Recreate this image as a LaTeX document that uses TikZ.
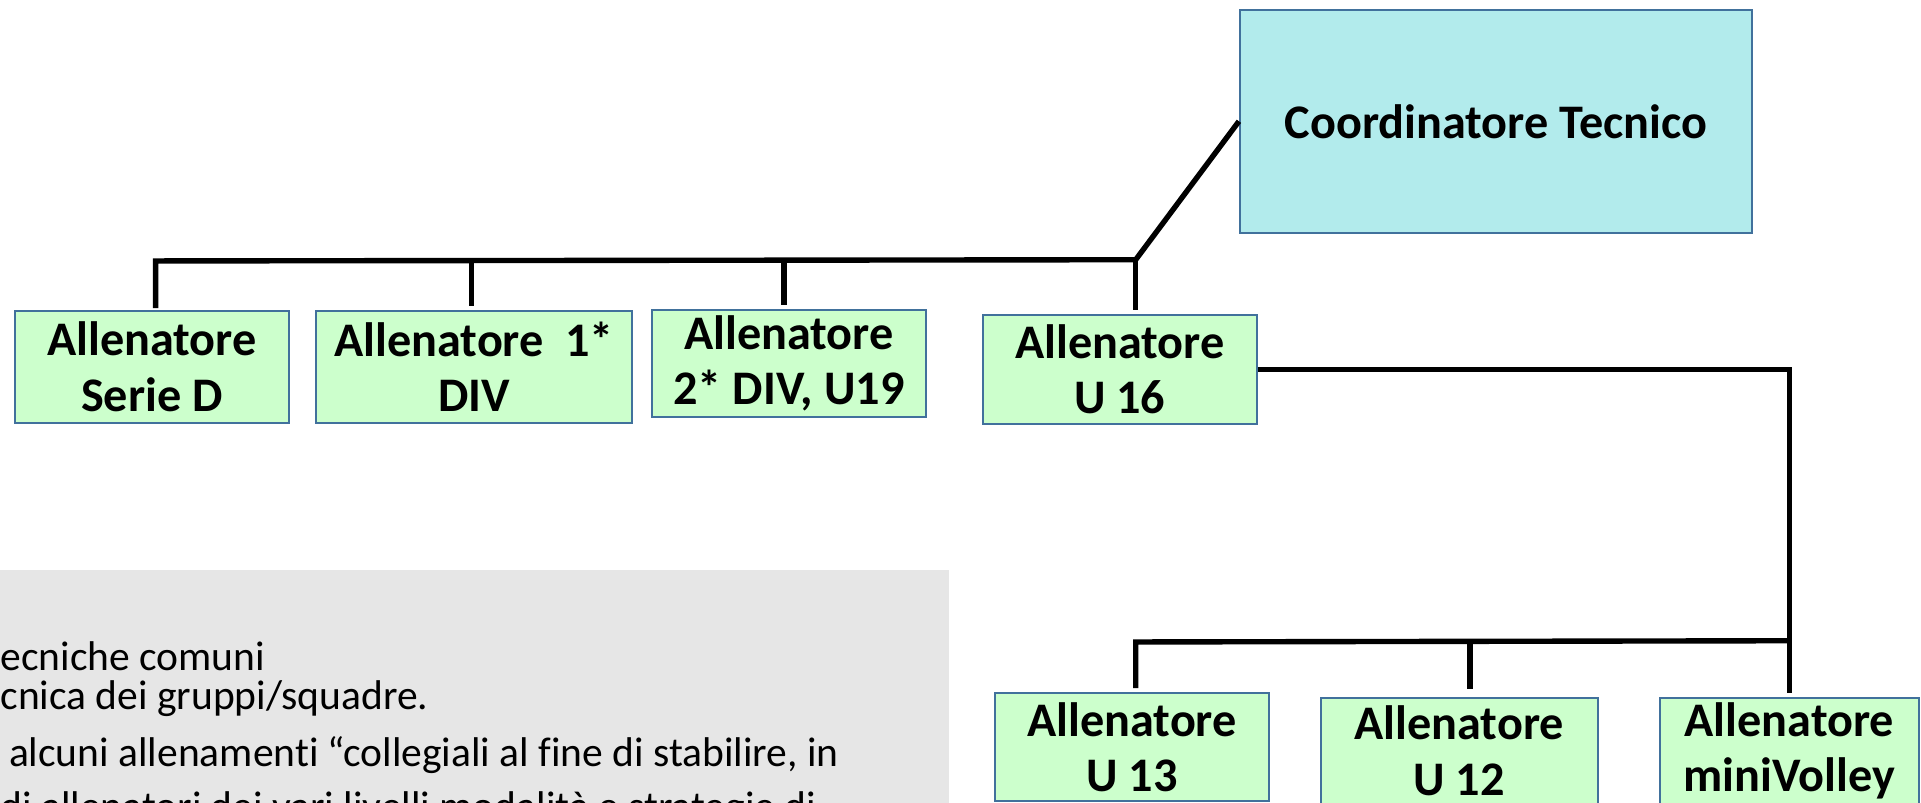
\documentclass[tikz,border=0pt]{standalone}
\usepackage{fontspec}
\setmainfont{Carlito}[Ligatures=NoCommon]
\definecolor{greenc}{RGB}{204,255,204}
\definecolor{cyanc}{RGB}{178,235,236}
\definecolor{bordc}{RGB}{65,113,156}
\definecolor{graybg}{RGB}{230,230,230}
\begin{document}
\begin{tikzpicture}[x=0.02cm,y=-0.02cm,
  box/.style={draw=bordc, line width=0.9pt, fill=greenc, align=center, inner sep=0pt,
    font=\bfseries\fontsize{22.4}{25.8}\selectfont},
  topbox/.style={box, fill=cyanc},
  note/.style={anchor=west, inner sep=0pt, font=\fontsize{19.3}{22}\selectfont},
  conn/.style={draw=black, line width=2.5pt}]
\useasboundingbox (0,0) rectangle (1568,655);
\clip (0,0) rectangle (1568,655);
\fill[graybg] (0,465) rectangle (775,660);
\node[note] (t1) at (0,536) {ecniche comuni};
\node[note] (t2) at (0,570) {cnica dei gruppi/squadre.};
\node[note] (t3) at (7,616) {alcuni allenamenti “collegiali al fine di stabilire, in};
\node[note] (t4) at (0,661) {di allenatori dei vari livelli modalità e strategie di};
% boxes
\node[topbox, minimum width=8.36cm, minimum height=3.64cm] (coord) at (1221,99) {Coordinatore Tecnico};
\node[box, minimum width=4.48cm, minimum height=1.82cm] (sd) at (124,299.5) {Allenatore\\Serie D};
\node[box, minimum width=5.16cm, minimum height=1.82cm] (d1) at (387,299.5) {Allenatore\ \ 1*\\DIV};
\node[box, minimum width=4.48cm, minimum height=1.74cm] (d2) at (644,296.5) {Allenatore\\2* DIV, U19};
\node[box, minimum width=4.48cm, minimum height=1.78cm] (u16) at (914,301.5) {Allenatore\\U 16};
\node[box, minimum width=4.48cm, minimum height=1.76cm] (u13) at (924,610) {Allenatore\\U 13};
\node[box, minimum width=4.52cm, minimum height=1.72cm] (u12) at (1191,613) {Allenatore\\U 12};
\node[box, minimum width=4.22cm, minimum height=1.72cm] (mv) at (1460.5,613) {Allenatore\\miniVolley};
% connectors
\coordinate (j1) at (927,212);
\coordinate (b1) at (127,213);
\coordinate (b2) at (385,213);
\coordinate (b3) at (640,213);
\draw[conn] (coord.west) -- (j1) -- (b1) -- ([yshift=1pt]b1 |- sd.north);
\draw[conn] (b2) -- ([yshift=2pt]b2 |- d1.north);
\draw[conn] (b3) -- ([yshift=2pt]b3 |- d2.north);
\draw[conn] (j1) -- ([yshift=2pt]j1 |- u16.north);
\draw[conn] (u16.east) -- (u16.east -| mv.north) -- ([yshift=2pt]mv.north);
\coordinate (j2) at (1460.5,523);
\coordinate (k1) at (927,524);
\coordinate (k2) at (1200,523);
\draw[conn] (j2) -- (k1) -- ([yshift=2pt]k1 |- u13.north);
\draw[conn] (k2) -- ([yshift=4pt]k2 |- u12.north);
\end{tikzpicture}
\end{document}
